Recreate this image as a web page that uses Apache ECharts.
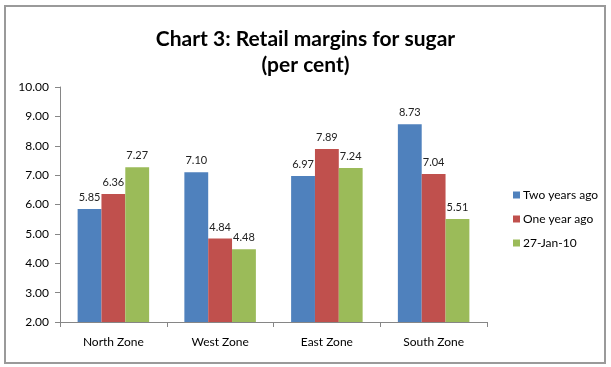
<!DOCTYPE html>
<html><head><meta charset="utf-8">
<script src="https://cdn.jsdelivr.net/npm/echarts@6/dist/echarts.min.js"></script>
<style>html,body{margin:0;padding:0;background:#fff}#c{width:611px;height:367px}</style>
</head><body><div id="c"></div>
<script>
const categories = ['North Zone','West Zone','East Zone','South Zone'];
const seriesNames = ['Two years ago','One year ago','27-Jan-10'];
const twoYearsAgo = [5.85, 7.10, 6.97, 8.73];
const oneYearAgo = [6.36, 4.84, 7.89, 7.04];
const jan2710 = [7.27, 4.48, 7.24, 5.51];
const colors = ['#4F81BD','#C0504D','#9BBB59'];
const values = [twoYearsAgo, oneYearAgo, jan2710];

const chart = echarts.init(document.getElementById('c'), null, {renderer:'canvas'});
const font = 'Lato, "Open Sans", sans-serif';
chart.setOption({
  animation:false,
  backgroundColor:'#fff',
  color: colors,
  graphic:[{type:'rect',shape:{x:5,y:6,width:600,height:357},style:{fill:'none',stroke:'#9a9a9a',lineWidth:2},silent:true}],
  title:{text:'Chart 3: Retail margins for sugar\n(per cent)',left:'center',top:21,
    textStyle:{fontFamily:font,fontWeight:'bold',fontSize:21,lineHeight:26,color:'#000'}},
  legend:{orient:'vertical',left:508,top:184,itemWidth:7,itemHeight:7,itemGap:12,icon:'rect',
    textStyle:{fontFamily:font,fontSize:12,color:'#000',padding:[0,0,0,-2]},data:seriesNames},
  grid:{left:60,right:124,top:87,bottom:45,containLabel:false},
  xAxis:{type:'category',data:categories,
    axisLine:{lineStyle:{color:'#868686'}},
    axisTick:{show:true,length:5,lineStyle:{color:'#868686'},alignWithLabel:false},
    axisLabel:{fontFamily:font,fontSize:12,color:'#000',margin:14}},
  yAxis:{type:'value',min:2,max:10,interval:1,
    axisLine:{show:true,lineStyle:{color:'#868686'}},
    axisTick:{show:true,length:5,lineStyle:{color:'#868686'}},
    splitLine:{show:false},
    axisLabel:{fontFamily:font,fontSize:12,color:'#000',margin:11,formatter:v=>v.toFixed(2)}},
  series: seriesNames.map((n,i)=>({
    name:n,type:'bar',data:values[i],barGap:'0%',barCategoryGap:'33%',
    itemStyle:{color:colors[i]},
    label:{show:true,position:'top',distance:6,fontFamily:font,fontSize:11,color:'#222',formatter:p=>p.value.toFixed(2)}
  }))
});
</script></body></html>
